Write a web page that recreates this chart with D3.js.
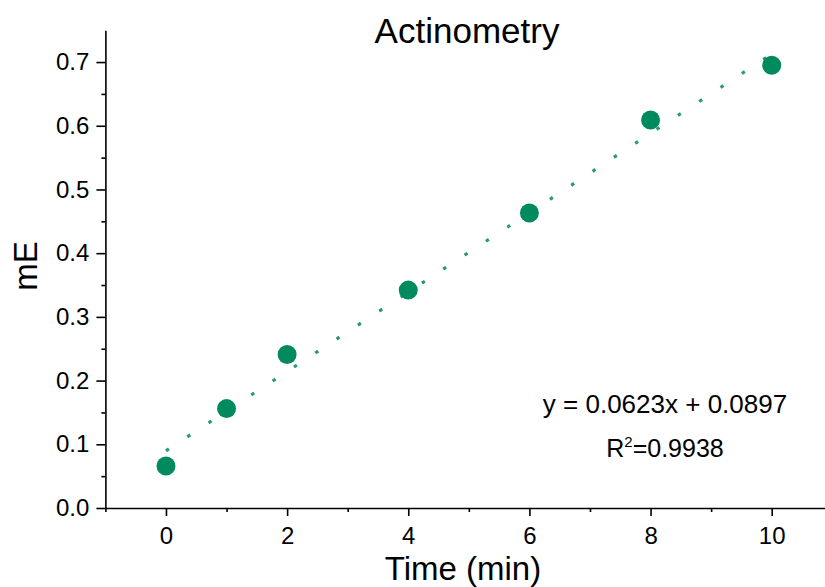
<!DOCTYPE html>
<html><head><meta charset="utf-8">
<script src="https://cdn.jsdelivr.net/npm/d3@7"></script>
<style>body{margin:0;background:#fff}svg{display:block}text{font-family:"Liberation Sans",Arial,sans-serif;fill:#000}</style>
</head><body><svg id="c" width="825" height="587"></svg>
<script>
const times = [0, 1, 2, 4, 6, 8, 10];
const mE = [0.066, 0.156, 0.241, 0.342, 0.463, 0.609, 0.695];
const slope = 0.0623, intercept = 0.0897;
const xTicks = [0, 2, 4, 6, 8, 10];
const yTicks = [0, 0.1, 0.2, 0.3, 0.4, 0.5, 0.6, 0.7];

const svg = d3.select("#c");
const x = d3.scaleLinear().domain([-1, 10.88]).range([105.4, 825]);
const y = d3.scaleLinear().domain([0, 0.75]).range([508, 30.2]);

// axes
const xMinor = d3.range(-1, 11, 1).filter(v => v % 2 !== 0);
const yMinor = d3.range(0.05, 0.75, 0.1);
const gx = svg.append("g").attr("transform", "translate(0,508)");
gx.call(d3.axisBottom(x).tickValues(xMinor).tickSize(4).tickFormat(""));
gx.call(g => g.select(".domain").remove());
const gx2 = svg.append("g").attr("transform", "translate(0,508)");
gx2.call(d3.axisBottom(x).tickValues(xTicks).tickSize(8).tickSizeOuter(0).tickPadding(11).tickFormat(d3.format("d")));
const gy = svg.append("g").attr("transform", "translate(105.4,0)");
gy.call(d3.axisLeft(y).tickValues(yMinor).tickSize(4).tickFormat(""));
gy.call(g => g.select(".domain").remove());
const gy2 = svg.append("g").attr("transform", "translate(105.4,0)");
gy2.call(d3.axisLeft(y).tickValues(yTicks).tickSize(9).tickSizeOuter(0).tickPadding(7).tickFormat(d3.format(".1f")));
svg.selectAll(".domain, .tick line").attr("stroke", "#000").attr("stroke-width", 1.6);
svg.selectAll(".tick text").style("font-size", "24px").style("font-family", "'Liberation Sans', Arial, sans-serif");

// trendline
const xs = [0, 10];
svg.append("line")
  .attr("x1", x(xs[0])).attr("y1", y(slope * xs[0] + intercept))
  .attr("x2", x(xs[1])).attr("y2", y(slope * xs[1] + intercept))
  .attr("stroke", "#2a9a72").attr("stroke-width", 3.2)
  .attr("stroke-dasharray", "3.5 22");

// points
svg.append("g").selectAll("circle").data(times).join("circle")
  .attr("cx", d => x(d)).attr("cy", (d, i) => y(mE[i])).attr("r", 9.5)
  .attr("fill", "#008a5e");

// texts
svg.append("text").attr("x", 467).attr("y", 43).attr("text-anchor", "middle").style("font-size", "35px").text("Actinometry");
svg.append("text").attr("x", 463).attr("y", 580).attr("text-anchor", "middle").style("font-size", "33px").text("Time (min)");
svg.append("text").attr("transform", "translate(37,266) rotate(-90)").attr("text-anchor", "middle").style("font-size", "33px").text("mE");
svg.append("text").attr("x", 665).attr("y", 413).attr("text-anchor", "middle").style("font-size", "26px").text("y = 0.0623x + 0.0897");
const r2 = svg.append("text").attr("x", 665).attr("y", 457).attr("text-anchor", "middle").style("font-size", "25px");
r2.append("tspan").text("R");
r2.append("tspan").attr("dy", -10).style("font-size", "15px").text("2");
r2.append("tspan").attr("dy", 10).text("=0.9938");
</script></body></html>
